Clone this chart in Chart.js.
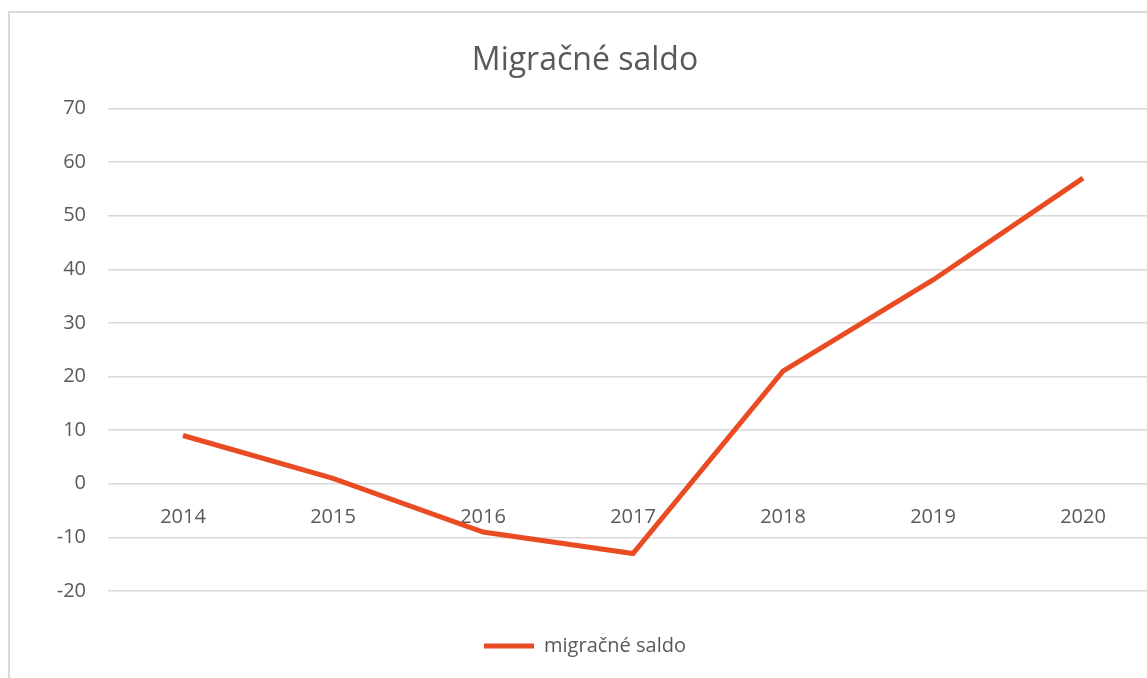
<!DOCTYPE html>
<html>
<head>
<meta charset="utf-8">
<script src="https://cdn.jsdelivr.net/npm/chart.js@4/dist/chart.umd.min.js"></script>
<style>
  html, body { margin: 0; padding: 0; background: #fff; overflow: hidden; }
  #frame {
    position: absolute; left: 8px; top: 11px;
    width: 1200px; height: 700px;
    border-left: 2px solid #d9d9d9; border-top: 2px solid #d9d9d9;
  }
  #box { position: absolute; left: 0; top: 13px; width: 1171px; height: 653px; }
</style>
</head>
<body>
<div id="frame"></div>
<div id="box"><canvas id="migChart"></canvas></div>
<script>
// data
const roky = ['2014', '2015', '2016', '2017', '2018', '2019', '2020'];
const saldo = [9, 1, -9, -13, 21, 38, 57];
const nazovSerie = 'migračné saldo';
const nadpis = 'Migračné saldo';

const sedy = '#595959';
const oranzova = '#E94C22';

Chart.defaults.font.family = "'Open Sans', 'Noto Sans', sans-serif";
Chart.defaults.color = sedy;

new Chart(document.getElementById('migChart'), {
    type: 'line',
    data: {
        labels: roky,
        datasets: [{
            label: nazovSerie,
            data: saldo,
            borderColor: oranzova,
            backgroundColor: oranzova,
            borderWidth: 5,
            pointRadius: 0,
            pointHoverRadius: 0,
            pointStyle: 'line',
            tension: 0
        }]
    },
    options: {
        responsive: true,
        maintainAspectRatio: false,
        animation: false,
        layout: { padding: { left: 12, right: 13, bottom: 0 } },
        plugins: {
            title: {
                display: true,
                text: nadpis,
                color: sedy,
                font: { size: 32, weight: 'normal' },
                padding: { top: 29, bottom: 28 }
            },
            legend: {
                position: 'bottom',
                labels: {
                    usePointStyle: true,
                    pointStyleWidth: 50,
                    color: sedy,
                    font: { size: 20 },
                    padding: 45
                }
            },
            tooltip: { enabled: false }
        },
        scales: {
            x: {
                position: { y: 0 },
                offset: true,
                grid: { display: false },
                border: { display: false },
                ticks: { font: { size: 20 }, color: sedy, padding: 14 }
            },
            y: {
                min: -20,
                max: 70,
                afterFit: function(scale) { scale.width = 96; },
                ticks: { stepSize: 10, font: { size: 20 }, color: sedy, padding: 22 },
                grid: { color: '#d9d9d9', lineWidth: 1.5, drawTicks: false },
                border: { display: false }
            }
        }
    }
});
</script>
</body>
</html>
